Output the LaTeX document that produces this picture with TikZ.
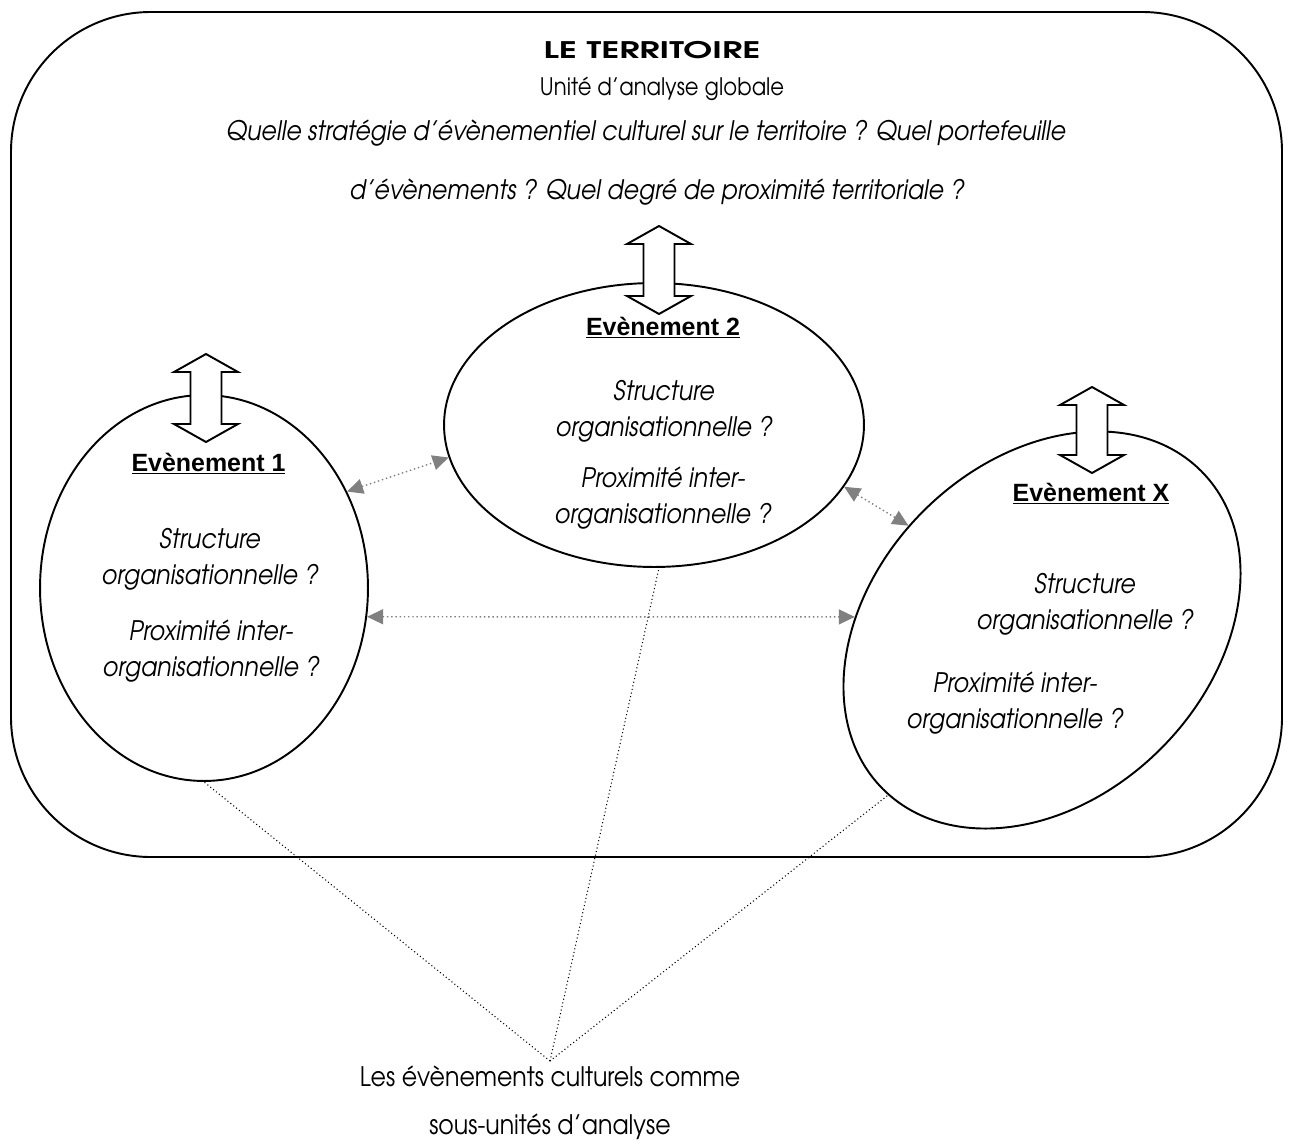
\documentclass[tikz,border=0pt]{standalone}
\usepackage{fontspec}
\setmainfont{texgyreadventor}[Extension=.otf, UprightFont=*-regular, BoldFont=*-bold, ItalicFont=*-italic, BoldItalicFont=*-bolditalic, FakeStretch=0.88]
\newfontfamily\titlefont{texgyreadventor}[Extension=.otf, UprightFont=*-bold, FakeStretch=1.52]
\newfontfamily\arialfont{Liberation Sans}
\usetikzlibrary{arrows.meta,shapes.geometric}
\tikzset{
  frame/.style={draw, line width=1.1pt, rounded corners=2.8cm},
  event/.style={draw, ellipse, line width=1.1pt, inner sep=0pt},
  blockarrow/.style={draw, line width=1.1pt, fill=white, line join=miter},
  link/.style={draw=gray, line width=0.8pt, dash pattern=on 0.8pt off 1.6pt,
    {Triangle[length=0.32cm,width=0.3cm]}-{Triangle[length=0.32cm,width=0.3cm]}},
  pointer/.style={draw, line width=0.6pt, dash pattern=on 0.6pt off 1.5pt},
  evtitle/.style={font=\arialfont\bfseries\fontsize{14.2}{17}\selectfont, inner sep=0pt, anchor=base},
  body/.style={font=\itshape\fontsize{15.3}{20.4}\selectfont, align=center, inner sep=0pt, anchor=base},
  head/.style={font=\titlefont\fontsize{13}{16}\selectfont, inner sep=0pt, anchor=base},
  sub/.style={font=\fontsize{13.7}{17}\selectfont, inner sep=0pt, anchor=base},
  question/.style={font=\itshape\fontsize{15.3}{18}\selectfont, inner sep=0pt},
  label/.style={font=\fontsize{15.3}{27.2}\selectfont, align=center, inner sep=0pt},
}
\newcommand\blockarrow[3]{%
  \draw[blockarrow] (#1,#2) -- ++(32,18) -- ++(-16.5,0) -- (#1+15.5,#3-18)
    -- ++(16.5,0) -- (#1,#3) -- ++(-32,-18) -- ++(16.5,0) -- (#1-15.5,#2+18)
    -- ++(-16.5,0) -- cycle;}
\begin{document}
\begin{tikzpicture}[x=0.02cm, y=-0.02cm]
\useasboundingbox (0,0) rectangle (1294,1146);
% outer territory frame
\draw[frame] (11,12) rectangle (1282,857);
% header
\node[head] (t1) at (652,58) {LE TERRITOIRE};
\node[sub] (t2) at (662,95) {Unité d’analyse globale};
\node[question] (q1) at (646,133) {Quelle stratégie d’évènementiel culturel sur le territoire ? Quel portefeuille};
\node[question] (q2) at (657,192) {d’évènements ? Quel degré de proximité territoriale ?};
% events
\node[event, minimum width=6.56cm, minimum height=7.72cm] (e1) at (204,588) {};
\node[event, minimum width=8.4cm, minimum height=5.68cm] (e2) at (654,425) {};
\node[event, minimum width=9cm, minimum height=6.72cm, rotate=45] (ex) at (1042,630) {};
% block arrows
\blockarrow{206}{354}{442}
\blockarrow{659}{226}{314}
\blockarrow{1092}{387}{473}
% event texts (base = baseline of the last line)
\node[evtitle] (h1) at (208.5,471) {\underline{Evènement 1}};
\node[evtitle] (h2) at (663,335) {\underline{Evènement 2}};
\node[evtitle] (hx) at (1091,501) {\underline{Evènement X}};
\node[body] (s1) at (210,584) {Structure\\organisationnelle ?};
\node[body] (p1) at (211,676) {Proximité inter-\\organisationnelle ?};
\node[body] (s2) at (664,436) {Structure\\organisationnelle ?};
\node[body] (p2) at (663,523) {Proximité inter-\\organisationnelle ?};
\node[body] (sx) at (1085,629) {Structure\\organisationnelle ?};
\node[body] (px) at (1015,728) {Proximité inter-\\organisationnelle ?};
% links between events
\draw[link] (e1.34.5) -- (e2.189.4);
\draw[link] (e2.-18.7) -- (ex.97.2);
\draw[link] (e1.-10.8) -- (ex.131.6);
% bottom label and pointers
\coordinate (conv) at (550,1061);
\node[label] (lbl) at (550,1103) {Les évènements culturels comme\\sous-unités d’analyse};
\draw[pointer] (conv) -- (e1.south);
\draw[pointer] (conv) -- (e2.-88);
\draw[pointer] (conv) -- (ex.182);
\end{tikzpicture}
\end{document}
